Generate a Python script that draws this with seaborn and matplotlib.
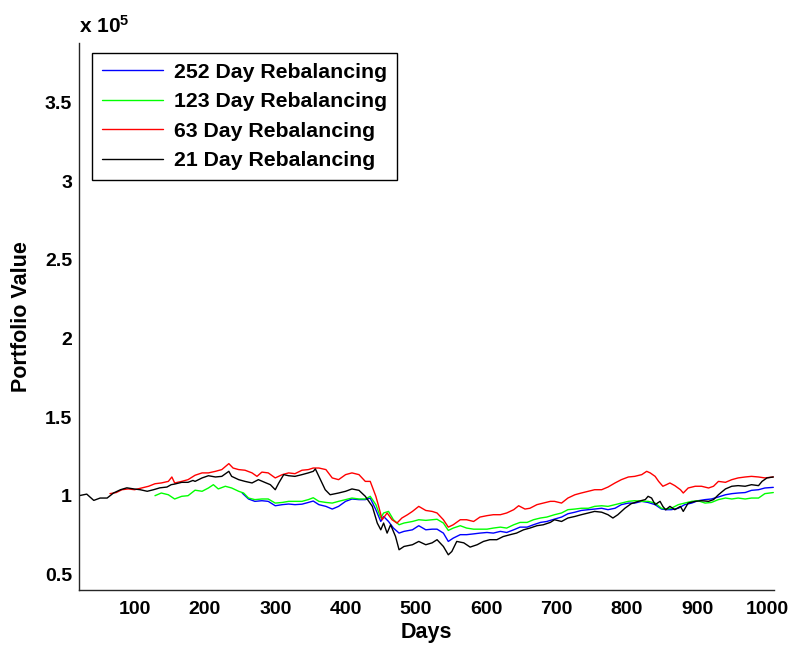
import matplotlib
matplotlib.use("Agg")
import matplotlib.pyplot as plt
import seaborn as sns
import pandas as pd

# ---- data (portfolio value in units of 1e5) ----
black_days = [21, 32, 42, 51, 61, 70, 80, 89, 99, 108, 118, 127, 136, 146, 152, 157, 167, 176, 183,
              186, 196, 205, 215, 224, 234, 238, 248, 257, 267, 276, 286, 293, 300, 305, 312, 319, 328,
              338, 347, 354, 357, 362, 371, 378, 390, 400, 409, 419, 428, 438, 445, 450, 454, 459, 464,
              471, 476, 483, 495, 504, 514, 523, 530, 539, 546, 551, 558, 568, 577, 587, 596, 605, 615,
              624, 634, 643, 653, 662, 672, 681, 691, 697, 707, 716, 726, 735, 745, 754, 764, 773, 780,
              787, 797, 806, 816, 826, 830, 835, 840, 847, 851, 855, 861, 868, 876, 880, 887, 897, 906,
              916, 923, 930, 940, 949, 958, 968, 977, 987, 992, 999, 1008]
black_vals = [1.00, 1.01, 0.97, 0.985, 0.985, 1.017, 1.038, 1.05, 1.043, 1.038, 1.028, 1.038, 1.05,
              1.055, 1.07, 1.074, 1.085, 1.085, 1.097, 1.091, 1.113, 1.127, 1.119, 1.123, 1.155, 1.123,
              1.102, 1.091, 1.081, 1.102, 1.083, 1.07, 1.038, 1.081, 1.134, 1.127, 1.123, 1.134, 1.145,
              1.155, 1.17, 1.123, 1.038, 1.006, 1.017, 1.028, 1.043, 1.034, 0.996, 0.932, 0.826, 0.783,
              0.826, 0.762, 0.815, 0.74, 0.656, 0.677, 0.688, 0.709, 0.688, 0.70, 0.72, 0.677, 0.624,
              0.645, 0.709, 0.70, 0.673, 0.688, 0.709, 0.72, 0.72, 0.74, 0.752, 0.762, 0.783, 0.794,
              0.809, 0.815, 0.83, 0.847, 0.836, 0.858, 0.868, 0.879, 0.89, 0.90, 0.895, 0.879, 0.858,
              0.879, 0.92, 0.949, 0.964, 0.975, 0.996, 0.985, 0.943, 0.964, 0.932, 0.91, 0.932, 0.911,
              0.932, 0.90, 0.953, 0.964, 0.968, 0.964, 0.975, 1.006, 1.043, 1.06, 1.064, 1.06, 1.07,
              1.064, 1.091, 1.113, 1.119]

red_days = [65, 74, 82, 91, 100, 110, 120, 129, 138, 148, 153, 157, 167, 176, 186, 196, 205, 215, 224,
            234, 240, 248, 257, 267, 274, 281, 290, 300, 310, 319, 328, 338, 347, 354, 362, 372, 381,
            390, 400, 409, 419, 428, 435, 443, 447, 452, 459, 466, 473, 480, 488, 495, 504, 514, 523,
            530, 539, 546, 553, 563, 572, 582, 591, 601, 610, 620, 629, 639, 646, 655, 662, 672, 681,
            691, 697, 707, 716, 726, 735, 745, 754, 764, 773, 783, 792, 802, 811, 821, 828, 833, 840,
            845, 851, 856, 861, 868, 876, 880, 887, 897, 906, 916, 923, 930, 940, 949, 958, 968, 977,
            987, 996, 1008]
red_vals = [1.013, 1.02, 1.038, 1.043, 1.038, 1.049, 1.06, 1.076, 1.081, 1.091, 1.119, 1.081, 1.091,
            1.102, 1.13, 1.145, 1.145, 1.155, 1.166, 1.204, 1.176, 1.166, 1.162, 1.145, 1.123, 1.15,
            1.145, 1.113, 1.134, 1.145, 1.14, 1.162, 1.166, 1.176, 1.176, 1.166, 1.113, 1.102, 1.134,
            1.145, 1.134, 1.091, 1.091, 0.996, 0.932, 0.847, 0.89, 0.847, 0.826, 0.858, 0.879, 0.90,
            0.932, 0.906, 0.90, 0.89, 0.847, 0.80, 0.815, 0.847, 0.847, 0.836, 0.864, 0.873, 0.879,
            0.879, 0.89, 0.911, 0.936, 0.915, 0.92, 0.943, 0.953, 0.964, 0.964, 0.953, 0.985, 1.006,
            1.017, 1.028, 1.038, 1.038, 1.055, 1.081, 1.102, 1.119, 1.123, 1.134, 1.155, 1.145, 1.123,
            1.091, 1.06, 1.07, 1.081, 1.064, 1.038, 1.017, 1.049, 1.06, 1.06, 1.049, 1.06, 1.091,
            1.085, 1.102, 1.113, 1.119, 1.123, 1.119, 1.113, 1.119]

green_days = [129, 138, 148, 157, 167, 176, 186, 196, 205, 212, 219, 229, 238, 248, 255, 262, 271, 281,
              290, 300, 310, 319, 328, 338, 347, 354, 362, 372, 381, 390, 400, 409, 419, 428, 435, 443,
              450, 454, 461, 468, 476, 483, 495, 504, 514, 523, 530, 539, 546, 553, 563, 572, 582, 591,
              601, 610, 620, 629, 639, 648, 658, 667, 677, 686, 697, 707, 716, 726, 735, 745, 754, 764,
              773, 783, 792, 802, 811, 821, 830, 840, 849, 856, 863, 873, 882, 892, 901, 911, 920, 930,
              940, 949, 958, 968, 977, 987, 996, 1008]
green_vals = [1.00, 1.017, 1.006, 0.979, 0.996, 1.0, 1.035, 1.028, 1.049, 1.07, 1.043, 1.06, 1.049,
              1.028, 1.017, 0.985, 0.975, 0.979, 0.979, 0.953, 0.957, 0.964, 0.964, 0.964, 0.975, 0.987,
              0.964, 0.957, 0.953, 0.964, 0.975, 0.985, 0.979, 0.979, 0.996, 0.943, 0.858, 0.89, 0.90,
              0.847, 0.815, 0.826, 0.836, 0.847, 0.843, 0.847, 0.85, 0.826, 0.779, 0.794, 0.809, 0.794,
              0.787, 0.787, 0.787, 0.794, 0.80, 0.794, 0.815, 0.83, 0.83, 0.847, 0.858, 0.864, 0.879,
              0.89, 0.911, 0.915, 0.92, 0.92, 0.932, 0.936, 0.932, 0.943, 0.953, 0.964, 0.968, 0.964,
              0.964, 0.953, 0.92, 0.915, 0.92, 0.943, 0.953, 0.964, 0.968, 0.953, 0.957, 0.975, 0.985,
              0.979, 0.985, 0.979, 0.985, 0.985, 1.013, 1.02]

blue_days = [253, 262, 271, 281, 290, 300, 310, 319, 328, 338, 347, 354, 362, 372, 381, 390, 400, 409,
             419, 428, 435, 443, 450, 454, 461, 468, 476, 483, 495, 504, 514, 523, 530, 539, 546, 553,
             563, 572, 582, 591, 601, 610, 620, 629, 639, 648, 658, 667, 677, 686, 697, 707, 716, 726,
             735, 745, 754, 764, 773, 783, 792, 802, 811, 821, 830, 840, 849, 856, 863, 873, 882, 892,
             901, 911, 920, 930, 940, 949, 958, 968, 977, 987, 996, 1008]
blue_vals = [1.017, 0.979, 0.964, 0.968, 0.964, 0.936, 0.943, 0.947, 0.943, 0.946, 0.957, 0.966, 0.943,
             0.932, 0.915, 0.932, 0.964, 0.979, 0.975, 0.975, 0.985, 0.911, 0.836, 0.868, 0.836, 0.794,
             0.762, 0.773, 0.783, 0.809, 0.783, 0.787, 0.787, 0.762, 0.709, 0.73, 0.752, 0.752, 0.757,
             0.762, 0.766, 0.762, 0.773, 0.766, 0.783, 0.80, 0.80, 0.815, 0.83, 0.836, 0.851, 0.864,
             0.885, 0.895, 0.906, 0.911, 0.915, 0.92, 0.911, 0.92, 0.943, 0.953, 0.953, 0.964, 0.957,
             0.943, 0.915, 0.911, 0.911, 0.92, 0.943, 0.953, 0.968, 0.975, 0.979, 0.992, 1.006, 1.013,
             1.017, 1.02, 1.034, 1.038, 1.049, 1.053]

series_labels = ["252 Day Rebalancing", "123 Day Rebalancing", "63 Day Rebalancing", "21 Day Rebalancing"]
series_colors = ["#0000ff", "#00ff00", "#ff0000", "#000000"]
y_ticks = [0.5, 1, 1.5, 2, 2.5, 3, 3.5]
y_ticklabels = ["0.5", "1", "1.5", "2", "2.5", "3", "3.5"]
x_ticks = [100, 200, 300, 400, 500, 600, 700, 800, 900, 1000]

# ---- style ----
sns.set_style("white")
plt.rcParams["font.family"] = ["Liberation Sans", "DejaVu Sans"]
plt.rcParams["font.weight"] = "bold"
plt.rcParams["text.color"] = "black"
plt.rcParams["axes.labelcolor"] = "black"
plt.rcParams["mathtext.fontset"] = "custom"
plt.rcParams["mathtext.rm"] = "Liberation Sans:bold"
plt.rcParams["mathtext.default"] = "rm"

fig = plt.figure(figsize=(7.96, 6.49), dpi=100)
ax = fig.add_axes([79 / 796, 1 - 590 / 649, (774 - 79) / 796, (590 - 43) / 649])

all_series = [(blue_days, blue_vals), (green_days, green_vals), (red_days, red_vals), (black_days, black_vals)]
for (d, v), lab, col in zip(all_series, series_labels, series_colors):
    df = pd.DataFrame({"Days": d, "Value": v})
    sns.lineplot(data=df, x="Days", y="Value", color=col, lw=1.0, ax=ax, label=lab, estimator=None)

ax.set_xlim(21, 1009)
ax.set_ylim(0.4, 3.88)
ax.set_xticks(x_ticks)
ax.set_xticklabels([str(t) for t in x_ticks])
ax.set_yticks(y_ticks)
ax.set_yticklabels(y_ticklabels)

for s in ["top", "right"]:
    ax.spines[s].set_visible(False)
for s in ["left", "bottom"]:
    ax.spines[s].set_color("#262626")
    ax.spines[s].set_linewidth(1.0)
ax.tick_params(axis="y", direction="in", length=8, width=1.0, color="#262626", labelsize=14,
               labelcolor="black", pad=5)
ax.tick_params(axis="x", direction="in", length=8, width=1.0, color="#262626", labelsize=14,
               labelcolor="black", pad=8)
for lbl in ax.get_xticklabels() + ax.get_yticklabels():
    lbl.set_fontweight("bold")

ax.set_xlabel("Days", fontsize=15.5, fontweight="bold", labelpad=3, color="black")
ax.set_ylabel("Portfolio Value", fontsize=15.5, fontweight="bold", labelpad=9, color="black")

fig.text(79 / 796, 1 - 33 / 649, r"x 10$^{5}$", fontsize=15, fontweight="bold", ha="left",
         va="baseline", color="black")

leg = ax.legend(loc="upper left", bbox_to_anchor=((92 - 79) / 695, (590 - 53) / 547), borderaxespad=0,
                fancybox=False, edgecolor="black", framealpha=1, fontsize=15.3, handlelength=2.9,
                handletextpad=0.5, labelspacing=0.5, borderpad=0.45)
leg.get_frame().set_linewidth(1.0)
for t in leg.get_texts():
    t.set_fontweight("bold")
    t.set_color("black")

fig.savefig("out.png", dpi=100)
